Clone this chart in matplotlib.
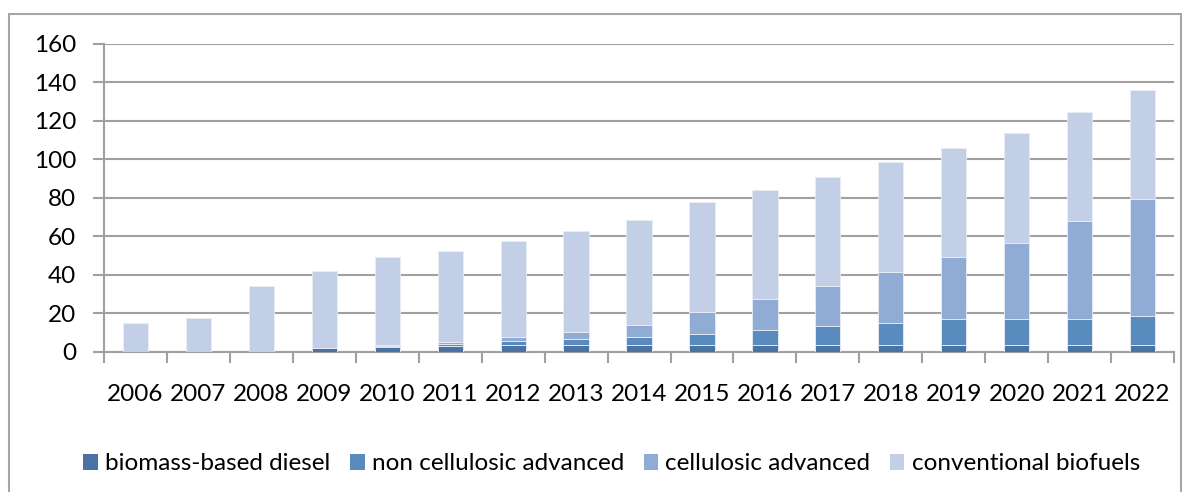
import matplotlib
matplotlib.use("Agg")
import matplotlib.pyplot as plt
from matplotlib.patches import Rectangle, Patch
import numpy as np

years = ["2006", "2007", "2008", "2009", "2010", "2011", "2012", "2013", "2014",
         "2015", "2016", "2017", "2018", "2019", "2020", "2021", "2022"]
biomass_diesel = [0, 0, 0, 1.9, 2.5, 3.0, 3.8, 3.8, 3.8, 3.8, 3.8, 3.8, 3.8, 3.8, 3.8, 3.8, 3.8]
non_cellulosic = [0, 0, 0, 0.4, 0.8, 1.1, 1.9, 2.8, 3.8, 5.7, 7.6, 9.5, 11.4, 13.2, 13.2, 13.2, 15.1]
cellulosic = [0, 0, 0, 0, 0.4, 0.9, 1.9, 3.8, 6.6, 11.4, 16.1, 20.8, 26.5, 32.2, 39.7, 51.1, 60.6]
conventional = [15.1, 17.8, 34.1, 39.7, 45.4, 47.7, 50.0, 52.2, 54.5, 56.8, 56.8, 56.8, 56.8, 56.8, 56.8, 56.8, 56.8]

series = [("biomass-based diesel", biomass_diesel, "#4A72A2"),
          ("non cellulosic advanced", non_cellulosic, "#5A8BBF"),
          ("cellulosic advanced", cellulosic, "#91ACD4"),
          ("conventional biofuels", conventional, "#C3CFE6")]

plt.rcParams['font.family'] = ['Lato', 'DejaVu Sans']
FS = 17.5

fig = plt.figure(figsize=(11.9, 4.92), dpi=100)
ax = fig.add_axes([0.0874, 0.2846, 0.8992, 0.626])

x = np.arange(len(years))
bottom = np.zeros(len(years))
handles = []
for name, vals, col in series:
    v = np.array(vals, dtype=float)
    ax.bar(x, v, width=0.4, bottom=bottom, color=col, edgecolor="#E8EDF5",
           linewidth=0.6, zorder=3)
    bottom += v
    handles.append(Patch(facecolor=col, edgecolor='none', label=name))

ax.set_xlim(-0.5, len(years) - 0.5)
ax.set_ylim(0, 160)
ax.set_yticks(np.arange(0, 161, 20))
ax.grid(axis='y', color='#A0A0A0', linewidth=1.5, zorder=0)
ax.set_axisbelow(True)

ax.set_xticks(x)
ax.set_xticklabels(years)
ax.set_xticks(np.arange(-0.5, len(years), 1), minor=True)
ax.tick_params(axis='x', which='major', length=0, pad=23, labelsize=FS)
ax.tick_params(axis='x', which='minor', length=8, width=1.5, color='#A0A0A0', direction='out')
ax.tick_params(axis='y', length=8, width=1.5, color='#A0A0A0', direction='out', pad=12, labelsize=FS)

for s in ['top', 'right']:
    ax.spines[s].set_visible(False)
for s in ['left', 'bottom']:
    ax.spines[s].set_color('#A0A0A0')
    ax.spines[s].set_linewidth(1.5)

leg = fig.legend(handles=handles, loc='center', bbox_to_anchor=(0.514, 0.057), ncol=4,
                 frameon=False, fontsize=17.5, handlelength=0.6, handleheight=0.6,
                 handletextpad=0.3, columnspacing=0.8)

fig.add_artist(Rectangle((9 / 1190, -0.01), (1181 - 9) / 1190, 1 - 14 / 492 + 0.01,
                         transform=fig.transFigure, fill=False, edgecolor='#A6A6A6',
                         linewidth=1.5))

fig.savefig("out.png", dpi=100)
